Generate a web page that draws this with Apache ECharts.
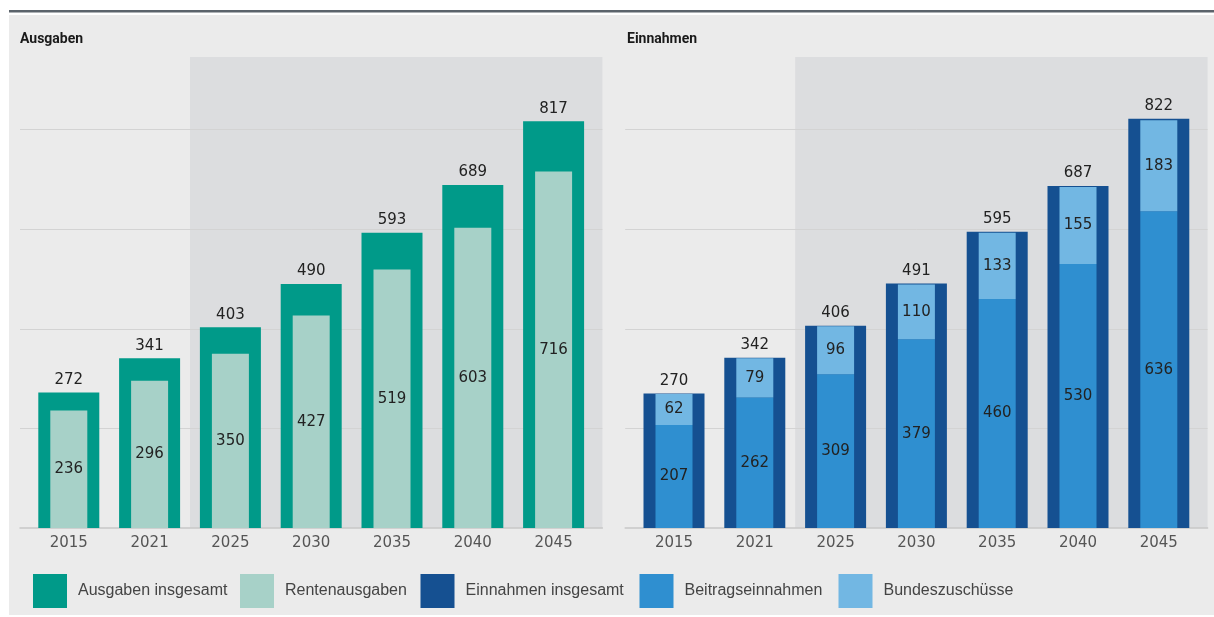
<!DOCTYPE html>
<html>
<head>
<meta charset="utf-8">
<script src="https://cdn.jsdelivr.net/npm/echarts@6/dist/echarts.min.js"></script>
<style>
  html, body { margin: 0; padding: 0; background: #ffffff; }
  #chart { width: 1214px; height: 617px; }
</style>
</head>
<body>
<div id="chart"></div>
<script>
// Rentenversicherung: Ausgaben und Einnahmen in Mrd. Euro
const years = ['2015', '2021', '2025', '2030', '2035', '2040', '2045'];
const projectionStart = '2025';

const ausgabenInsgesamt = [272, 341, 403, 490, 593, 689, 817];
const rentenausgaben    = [236, 296, 350, 427, 519, 603, 716];

const einnahmenInsgesamt = [270, 342, 406, 491, 595, 687, 822];
const beitragseinnahmen  = [207, 262, 309, 379, 460, 530, 636];
const bundeszuschuesse   = [62, 79, 96, 110, 133, 155, 183];

const panelTitles = ['Ausgaben', 'Einnahmen'];
const legendNames = ['Ausgaben insgesamt', 'Rentenausgaben', 'Einnahmen insgesamt', 'Beitragseinnahmen', 'Bundeszuschüsse'];

// scale
const Y_MAX = 946;
const Y_STEP = 200;

// layout
const TOP = 57, HEIGHT = 471;
const BAND = 80.8;          // width of one category slot
const PAD = 8.4;            // frame overhang beyond the outer slots
const BARS_W = BAND * years.length;
const panelLeft = [28.4, 633.6];

const C = {
  ausg: '#009a89', rente: '#a7d1c8',
  einn: '#155091', beitrag: '#2f8fd0', bund: '#72b7e3',
  shade: '#dcdddf', grid: '#d3d3d3', axis: '#c7c7c7',
  text: '#222222', tick: '#555555', legend: '#444444'
};
const NUM_FONT = 'DejaVu Sans';

const frameMin = -0.5 - PAD / BAND;
const frameMax = years.length - 0.5 + PAD / BAND;
const shadeFrom = years.indexOf(projectionStart) - 0.5;

const grids = [], xAxes = [], yAxes = [];
panelLeft.forEach((left, p) => {
  // bars grid
  grids.push({ left: left, top: TOP, width: BARS_W, height: HEIGHT });
  // frame grid (gridlines, base line, projection shading)
  grids.push({ left: left - PAD, top: TOP, width: BARS_W + 2 * PAD, height: HEIGHT });
  const gBars = p * 2, gFrame = p * 2 + 1;

  xAxes.push({
    type: 'category', data: years, gridIndex: gBars,
    axisLine: { show: false }, axisTick: { show: false },
    axisLabel: { color: C.tick, fontSize: 15, fontFamily: NUM_FONT, margin: 8 }
  });
  xAxes.push({ type: 'category', data: years, gridIndex: gBars, show: false });
  xAxes.push({
    type: 'value', gridIndex: gFrame, min: frameMin, max: frameMax, z: 2,
    axisLine: { show: true, lineStyle: { color: C.axis, width: 1.5 } },
    axisTick: { show: false }, axisLabel: { show: false }, splitLine: { show: false }
  });

  yAxes.push({ type: 'value', gridIndex: gBars, min: 0, max: Y_MAX, show: false });
  yAxes.push({
    type: 'value', gridIndex: gFrame, min: 0, max: Y_MAX, interval: Y_STEP, z: 2,
    axisLine: { show: false }, axisTick: { show: false }, axisLabel: { show: false },
    splitLine: { show: true, showMinLine: false, showMaxLine: false, lineStyle: { color: C.grid, width: 1 } }
  });
});

const topLabel = { show: true, position: 'top', distance: 5, color: C.text, fontSize: 15, fontFamily: NUM_FONT };
const inLabel = { show: true, position: 'inside', color: C.text, fontSize: 15, fontFamily: NUM_FONT };

function shadeSeries(p) {
  return {
    type: 'line', data: [], xAxisIndex: p * 3 + 2, yAxisIndex: p * 2 + 1, z: 0, silent: true,
    markArea: { silent: true, z: 0, itemStyle: { color: C.shade }, data: [[{ xAxis: shadeFrom }, { xAxis: frameMax }]] }
  };
}

const series = [
  shadeSeries(0),
  shadeSeries(1),
  { name: legendNames[0], type: 'bar', xAxisIndex: 0, yAxisIndex: 0, barWidth: 61, z: 4,
    itemStyle: { color: C.ausg }, label: topLabel, data: ausgabenInsgesamt },
  { name: legendNames[1], type: 'bar', xAxisIndex: 1, yAxisIndex: 0, barWidth: 37, z: 5,
    itemStyle: { color: C.rente }, label: inLabel, data: rentenausgaben },
  { name: legendNames[2], type: 'bar', xAxisIndex: 3, yAxisIndex: 2, barWidth: 61, z: 4,
    itemStyle: { color: C.einn }, label: topLabel, data: einnahmenInsgesamt },
  { name: legendNames[3], type: 'bar', xAxisIndex: 4, yAxisIndex: 2, barWidth: 37, z: 5, stack: 'einnahmen',
    itemStyle: { color: C.beitrag }, label: inLabel, data: beitragseinnahmen },
  { name: legendNames[4], type: 'bar', xAxisIndex: 4, yAxisIndex: 2, barWidth: 37, z: 5, stack: 'einnahmen',
    itemStyle: { color: C.bund }, label: inLabel, data: bundeszuschuesse }
];

const legendLeft = [33, 240, 420.5, 639.5, 838.5];
const legends = legendNames.map((name, i) => ({
  data: [name], left: legendLeft[i], top: 574, padding: 0,
  icon: 'rect', itemWidth: 34, itemHeight: 34, selectedMode: false,
  textStyle: { color: C.legend, fontSize: 16, fontFamily: 'Liberation Sans', padding: [0, 0, 0, 6] }
}));

const titles = panelTitles.map((t, i) => ({
  text: t, left: [20, 627][i], top: 32, padding: 0,
  textStyle: { fontSize: 14, fontWeight: 'bold', fontFamily: 'Roboto', color: '#1a1a1a' }
}));

const chart = echarts.init(document.getElementById('chart'), null, { renderer: 'canvas' });
chart.setOption({
  animation: false,
  textStyle: { fontFamily: NUM_FONT },
  graphic: [
    { type: 'rect', z: -100, silent: true, shape: { x: 9, y: 15, width: 1205, height: 600 }, style: { fill: '#ebebeb' } },
    { type: 'rect', z: -100, silent: true, shape: { x: 9, y: 10, width: 1205, height: 2.5 }, style: { fill: '#5b636b' } }
  ],
  title: titles,
  legend: legends,
  grid: grids,
  xAxis: xAxes,
  yAxis: yAxes,
  series: series
});
</script>
</body>
</html>
